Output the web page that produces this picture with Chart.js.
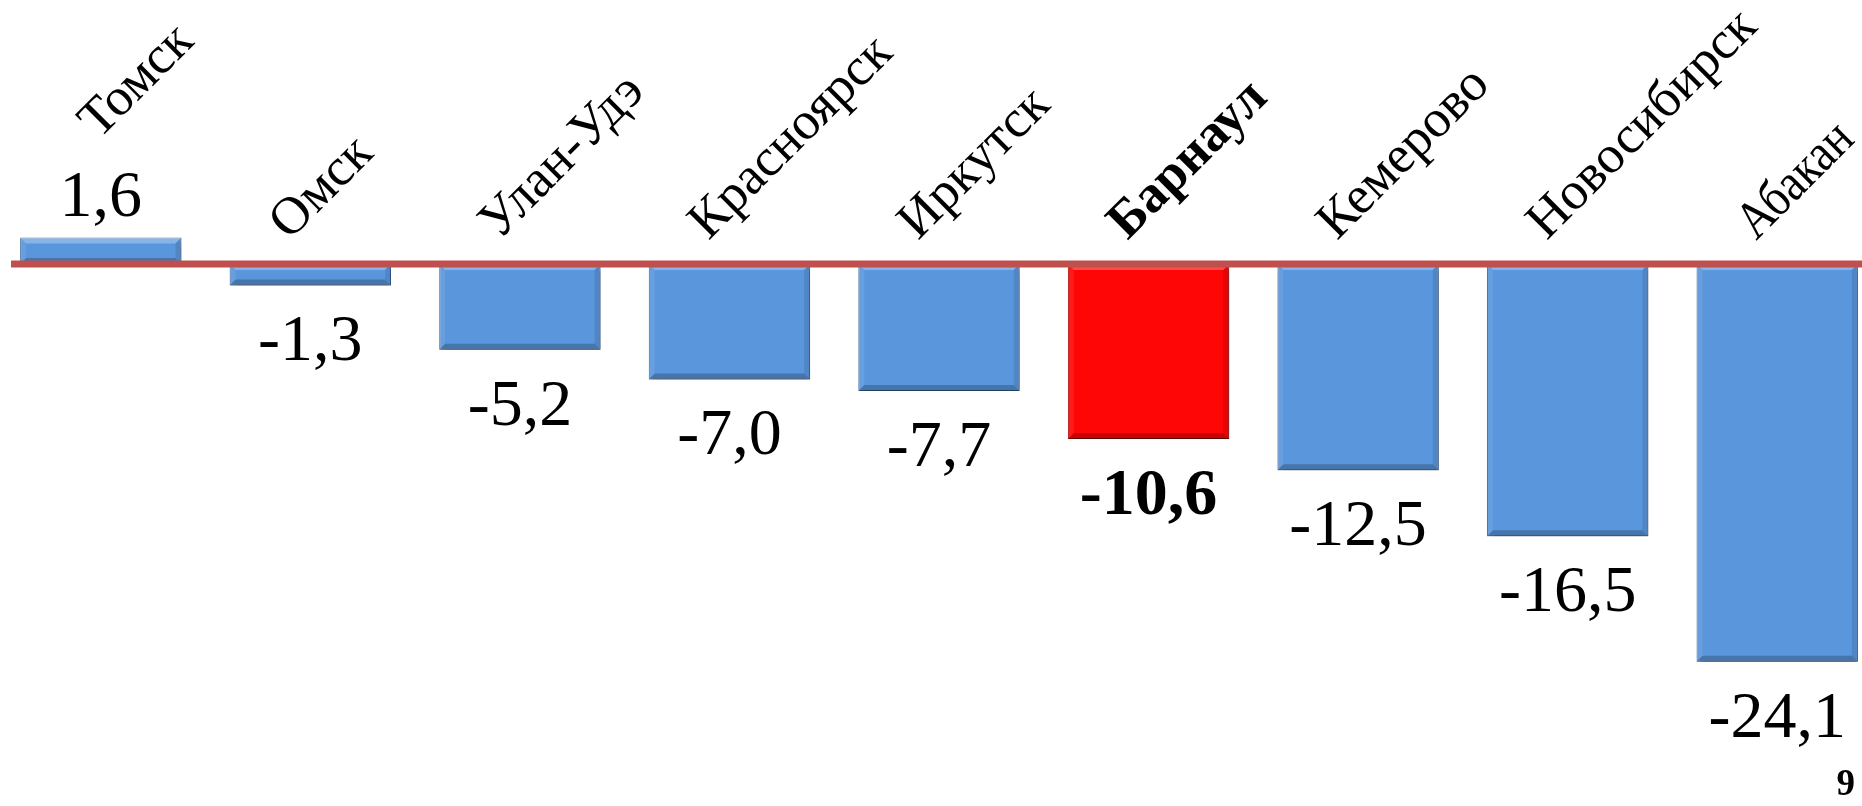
<!DOCTYPE html>
<html>
<head>
<meta charset="utf-8">
<script src="https://cdn.jsdelivr.net/npm/chart.js@4"></script>
<style>
  html, body { margin: 0; padding: 0; background: #ffffff; overflow: hidden; width: 1862px; height: 806px; }
  #wrap { position: absolute; left: -4px; top: 0; width: 1886px; height: 806px; }
  #pageNum { position: absolute; right: 7px; bottom: 2px; font: bold 37px "Times New Roman", "Liberation Serif", serif; color: #000; }
</style>
</head>
<body>
<div id="wrap"><canvas id="c" width="1886" height="806"></canvas></div>
<div id="pageNum">9</div>
<script>
// ---- data ----
const categories = ["Томск", "Омск", "Улан-Удэ", "Красноярск", "Иркутск", "Барнаул", "Кемерово", "Новосибирск", "Абакан"];
const values = [1.6, -1.3, -5.2, -7.0, -7.7, -10.6, -12.5, -16.5, -24.1];
const valueLabels = ["1,6", "-1,3", "-5,2", "-7,0", "-7,7", "-10,6", "-12,5", "-16,5", "-24,1"];
const highlighted = ["Барнаул"];

// ---- styles ----
const FONT = '"Times New Roman", "Liberation Serif", serif';
const BLUE = '#5A96DC';
const BLUE_EDGE = '#4373B2';
const RED = '#FF0606';
const RED_EDGE = '#B00000';
const ZERO_LINE = '#C0504D';
const PAGE_RIGHT = 1866; // canvas x of visible page's right edge (canvas is shifted 4px left)

const isHi = (i) => highlighted.includes(categories[i]);

const shadowPlugin = {
  id: 'shadow',
  beforeDatasetsDraw(chart) {
    const ctx = chart.ctx;
    ctx.save();
    ctx.shadowColor = 'rgba(0,0,0,0.4)';
    ctx.shadowBlur = 7;
    ctx.shadowOffsetX = 2;
    ctx.shadowOffsetY = 4;
  },
  afterDatasetsDraw(chart) {
    chart.ctx.restore();
  }
};

function bevel(ctx, l, t, r, b) {
  const w = Math.min(6, (b - t) / 2, (r - l) / 2);
  const poly = (pts, color) => {
    ctx.beginPath();
    ctx.moveTo(pts[0][0], pts[0][1]);
    for (let k = 1; k < pts.length; k++) ctx.lineTo(pts[k][0], pts[k][1]);
    ctx.closePath();
    ctx.fillStyle = color;
    ctx.fill();
  };
  poly([[l, t], [r, t], [r - w, t + w], [l + w, t + w]], 'rgba(255,255,255,0.28)');
  poly([[l, t], [l + w, t + w], [l + w, b - w], [l, b]], 'rgba(255,255,255,0.08)');
  poly([[r, t], [r, b], [r - w, b - w], [r - w, t + w]], 'rgba(0,0,0,0.10)');
  poly([[l, b], [l + w, b - w], [r - w, b - w], [r, b]], 'rgba(0,0,0,0.22)');
}

const overlayPlugin = {
  id: 'overlay',
  afterDatasetsDraw(chart) {
    const ctx = chart.ctx;
    const y0 = chart.scales.y.getPixelForValue(0);
    const meta = chart.getDatasetMeta(0);

    // bevel on bars
    ctx.save();
    meta.data.forEach((bar) => {
      const half = bar.width / 2;
      const t = Math.min(bar.y, bar.base), b = Math.max(bar.y, bar.base);
      bevel(ctx, bar.x - half, t, bar.x + half, b);
    });
    ctx.restore();

    // zero line
    ctx.save();
    ctx.strokeStyle = ZERO_LINE;
    ctx.lineWidth = 7;
    ctx.beginPath();
    ctx.moveTo(15, y0);
    ctx.lineTo(chart.width, y0);
    ctx.stroke();
    ctx.restore();

    meta.data.forEach((bar, i) => {
      const v = values[i];
      const bold = isHi(i);
      // value labels
      ctx.save();
      ctx.fillStyle = '#000';
      ctx.textAlign = 'center';
      ctx.textBaseline = 'alphabetic';
      ctx.font = (bold ? 'bold ' : '') + '66px ' + FONT;
      const ly = v >= 0 ? bar.y - 22 : bar.y + 75;
      ctx.fillText(valueLabels[i], bar.x, ly);
      ctx.restore();

      // category labels, rotated -45deg, start-anchored, fitted inside the page
      ctx.save();
      let ax, ay;
      if (v >= 0) { ax = bar.x - 2; ay = 140; }
      else { ax = bar.x - 21; ay = 241; }
      ctx.font = (bold ? 'bold ' : '') + '53px ' + FONT;
      const maxLen = (PAGE_RIGHT - 6 - ax) / Math.SQRT1_2;
      ctx.translate(ax, ay);
      ctx.rotate(-Math.PI / 4);
      ctx.fillStyle = '#000';
      ctx.textAlign = 'left';
      ctx.textBaseline = 'alphabetic';
      ctx.fillText(categories[i], 0, 0, maxLen);
      ctx.restore();
    });
  }
};

new Chart(document.getElementById('c'), {
  type: 'bar',
  data: {
    labels: categories,
    datasets: [{
      data: values,
      backgroundColor: values.map((v, i) => isHi(i) ? RED : BLUE),
      borderColor: values.map((v, i) => isHi(i) ? RED_EDGE : BLUE_EDGE),
      borderWidth: 1,
      borderSkipped: false,
      categoryPercentage: 1.0,
      barPercentage: 0.77
    }]
  },
  options: {
    responsive: false,
    devicePixelRatio: 1,
    animation: false,
    layout: { padding: 0 },
    plugins: { legend: { display: false }, tooltip: { enabled: false } },
    scales: {
      x: { display: false, offset: true },
      y: { display: false, min: -32.85, max: 16.0 }
    }
  },
  plugins: [shadowPlugin, overlayPlugin]
});
</script>
</body>
</html>
